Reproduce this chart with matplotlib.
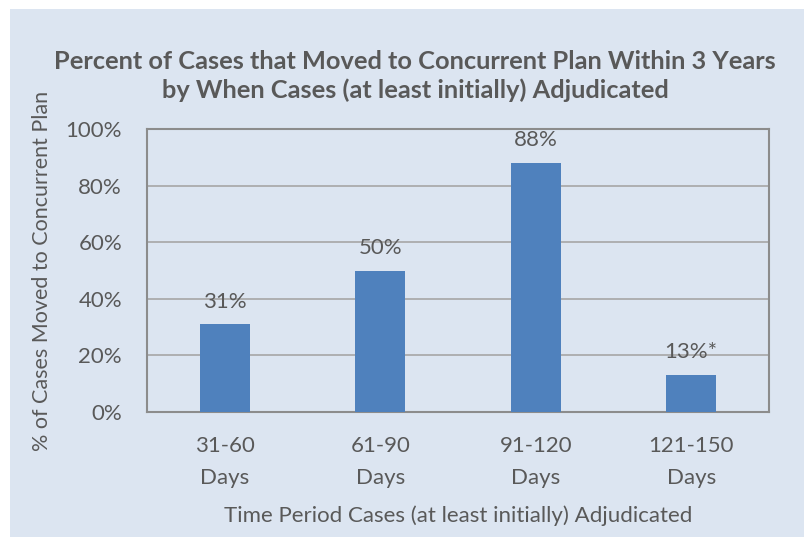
import matplotlib.pyplot as plt
import numpy as np
from matplotlib.patches import Rectangle

plt.rcParams['font.family'] = ['Lato', 'DejaVu Sans']

categories = ['31-60\nDays', '61-90\nDays', '91-120\nDays', '121-150\nDays']
percent_moved = [31, 50, 88, 13]
bar_labels = ['31%', '50%', '88%', '13%*']
yticks = [0, 20, 40, 60, 80, 100]

text_color = '#595959'
bar_color = '#4F81BD'

fig = plt.figure(figsize=(8.07, 5.39), dpi=100, facecolor='white')
W, H = 807, 539
# light blue chart background with a thin white margin
fig.patches.append(Rectangle((10 / W, 2 / H), 794 / W, 528 / H,
                             transform=fig.transFigure, facecolor='#DCE5F1',
                             edgecolor='none', zorder=-10))

ax = fig.add_axes([147 / W, 1 - 412 / H, 622 / W, 283 / H])
ax.set_facecolor('none')

x = np.arange(len(categories))
ax.bar(x, percent_moved, width=0.32, color=bar_color, zorder=3)
for xi, v, lab in zip(x, percent_moved, bar_labels):
    ax.text(xi, v + 4.5, lab, ha='center', va='bottom', fontsize=16, color=text_color)

ax.set_xlim(-0.5, len(categories) - 0.5)
ax.set_ylim(0, 100)
ax.set_yticks(yticks)
ax.set_yticklabels([f'{t}%' for t in yticks], fontsize=16, color=text_color)
ax.set_xticks(x)
ax.set_xticklabels(categories, fontsize=16, color=text_color, linespacing=1.75)
ax.tick_params(length=0)
ax.tick_params(axis='y', pad=18)
ax.tick_params(axis='x', pad=17)
ax.grid(axis='y', color='#A6A6A6', linewidth=1.2, zorder=0)
for s in ax.spines.values():
    s.set_color('#8C8C8C')
    s.set_linewidth(1.5)

ax.set_ylabel('% of Cases Moved to Concurrent Plan', fontsize=15.5, color=text_color, labelpad=10)
ax.set_xlabel('Time Period Cases (at least initially) Adjudicated', fontsize=16,
              color=text_color, labelpad=13)

fig.text(0.5 * (50 + 780) / W, 1 - 76 / H,
         'Percent of Cases that Moved to Concurrent Plan Within 3 Years\n'
         'by When Cases (at least initially) Adjudicated',
         ha='center', va='center', fontsize=18.3, fontweight='bold', color=text_color,
         linespacing=1.3)

fig.savefig('out.png', dpi=100, facecolor='white')
